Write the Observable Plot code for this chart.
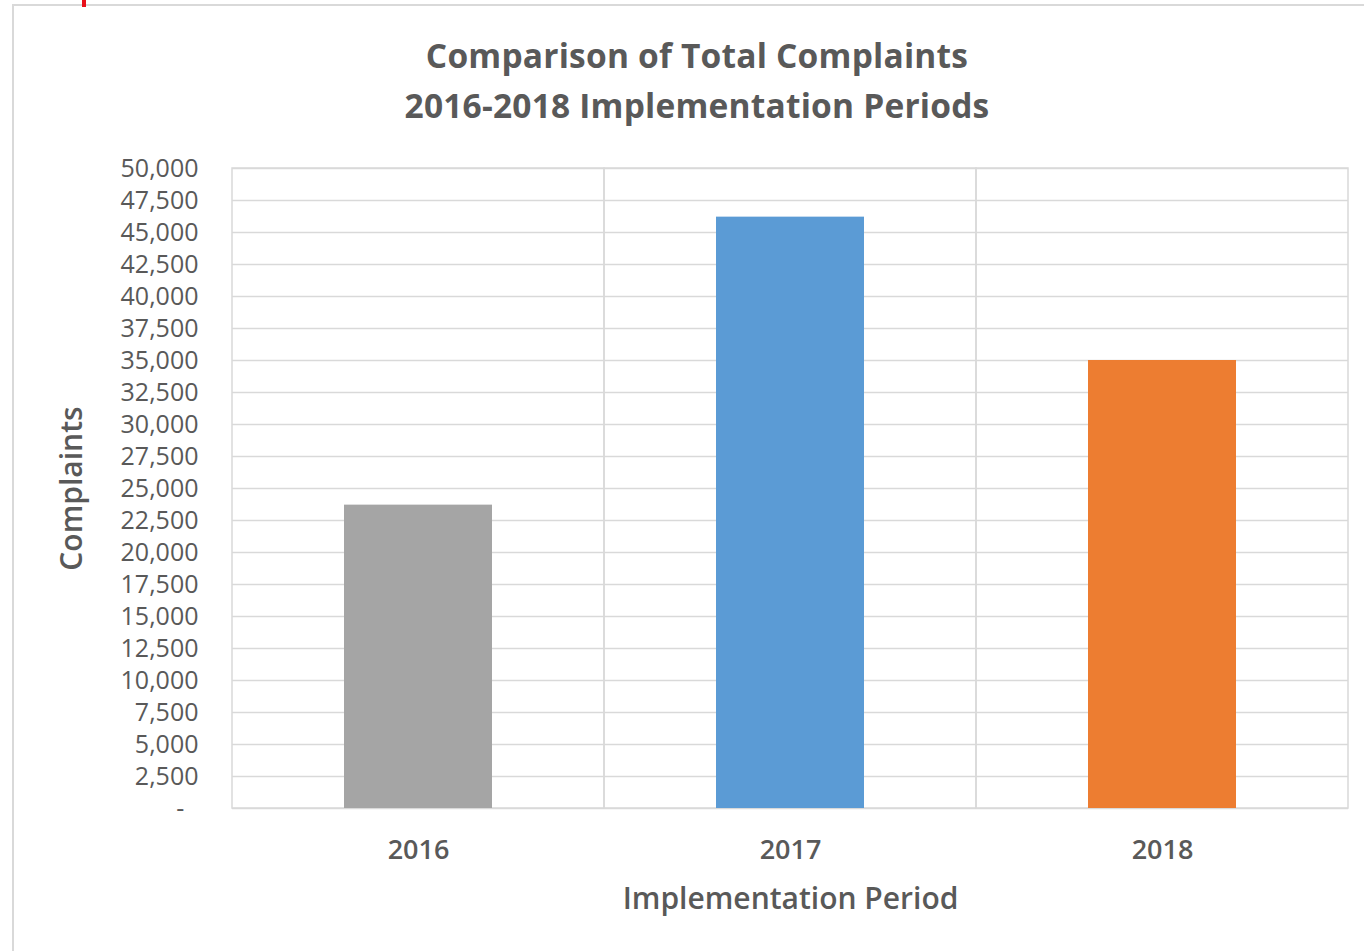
<!DOCTYPE html>
<html>
<head>
<meta charset="utf-8">
<script src="https://cdn.jsdelivr.net/npm/d3@7"></script>
<script src="https://cdn.jsdelivr.net/npm/@observablehq/plot@0.6"></script>
<style>
  html, body { margin: 0; padding: 0; background: #ffffff; }
  body { width: 1364px; height: 951px; position: relative; overflow: hidden; font-family: "Open Sans", sans-serif; }
  #frame { position: absolute; left: 12px; top: 4px; width: 1360px; height: 960px; border: 2px solid #d9d9d9; box-sizing: border-box; }
  #mark { position: absolute; left: 82px; top: 0; width: 4px; height: 7px; background: #e8101a; }
  #title { position: absolute; left: 0; top: 30px; width: 1394px; text-align: center; color: #595959;
           font-weight: 700; font-size: 33.5px; line-height: 50px; letter-spacing: 0.2px; }
  #chart { position: absolute; left: 0; top: 130px; }
</style>
</head>
<body>
<div id="frame"></div>
<div id="mark"></div>
<div id="title">Comparison of Total Complaints<br>2016-2018 Implementation Periods</div>
<div id="chart"></div>
<script>
const years = ["2016", "2017", "2018"];
const complaints = [23700, 46200, 35000];
const barColors = ["#a5a5a5", "#5b9bd5", "#ed7d31"];
const yTicks = d3.range(0, 50001, 2500);
const yMax = 50000;
const xLabel = "Implementation Period";
const yLabel = "Complaints";

const data = years.map((y, i) => ({year: y, value: complaints[i], color: barColors[i]}));
const fmt = d => d === 0 ? "-\u2007" : d3.format(",")(d);
const textColor = "#595959";

const plot = Plot.plot({
  width: 1364,
  height: 821,
  marginTop: 38,
  marginBottom: 143,
  marginLeft: 232,
  marginRight: 16,
  style: {fontFamily: "Open Sans, sans-serif", color: textColor, background: "transparent"},
  x: {domain: years, padding: 0},
  y: {domain: [0, yMax]},
  marks: [
    Plot.ruleY(yTicks, {stroke: "#d9d9d9", strokeWidth: 1.5}),
    Plot.barY(years, {x: d => d, y1: 0, y2: yMax, fill: "none", stroke: "#d9d9d9", strokeWidth: 1.5}),
    Plot.barY(data, {x: "year", y: "value", fill: "color", insetLeft: 112, insetRight: 112}),
    Plot.axisY({ticks: yTicks, tickFormat: fmt, tickSize: 0, tickPadding: 34, fontSize: 25, fontWeight: 500, fill: textColor, label: null}),
    Plot.axisX({tickSize: 0, tickPadding: 31, fontSize: 27, fontWeight: 600, fill: textColor, label: null}),
    Plot.text([xLabel], {frameAnchor: "bottom", dy: 100, fontSize: 30, fontWeight: 600, fill: textColor, textAnchor: "middle"}),
    Plot.text([yLabel], {frameAnchor: "left", dx: -160, rotate: -90, fontSize: 30, fontWeight: 600, fill: textColor, textAnchor: "middle"})
  ]
});
document.getElementById("chart").appendChild(plot);
</script>
</body>
</html>
